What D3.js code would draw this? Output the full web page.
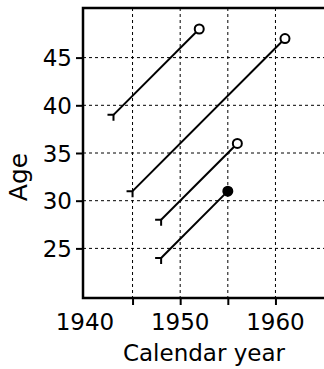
<!DOCTYPE html>
<html><head><meta charset="utf-8">
<script src="https://cdn.jsdelivr.net/npm/d3@7"></script>
<style>
html,body{margin:0;padding:0;background:#fff;overflow:hidden}
svg{display:block}
text{font-family:"DejaVu Sans",sans-serif;fill:#000}
</style></head>
<body>
<svg id="chart" width="324" height="369"></svg>
<script>
// Data
const entryYear = [1943, 1945, 1948, 1948];
const exitYear  = [1952, 1961, 1956, 1955];
const entryAge  = [39, 31, 28, 24];
const event     = [0, 0, 0, 1];
const xTicks = [1945, 1950, 1955, 1960];
const xTickLabels = [1940, 1950, 1960];
const yTicks = [25, 30, 35, 40, 45];

const svg = d3.select("#chart");
const L = 83, T = 8, B = 298, R = 325;
const x = d3.scaleLinear().domain([1939.8, 1965.2]).range([L, R]);
const y = d3.scaleLinear().domain([19.8, 50.2]).range([B, T]);

// grid
const g = svg.append("g");
g.selectAll(".vg").data(xTicks).enter().append("line")
  .attr("x1", d => x(d)).attr("x2", d => x(d)).attr("y1", T).attr("y2", B)
  .attr("stroke", "#000").attr("stroke-width", 1).attr("stroke-dasharray", "3,3");
g.selectAll(".hg").data(yTicks).enter().append("line")
  .attr("x1", L).attr("x2", R).attr("y1", d => y(d)).attr("y2", d => y(d))
  .attr("stroke", "#000").attr("stroke-width", 1).attr("stroke-dasharray", "3,3");

// axes
const xAxis = d3.axisBottom(x).tickValues(xTicks).tickSize(7).tickFormat("");
const gx = svg.append("g").attr("transform", `translate(0,${B})`).call(xAxis);
gx.select(".domain").remove();
gx.selectAll("line").attr("stroke-width", 2);
svg.selectAll(".xl").data(xTickLabels).enter().append("text")
  .attr("x", d => x(d)).attr("y", 330).attr("text-anchor", "middle")
  .attr("font-size", 23).text(d => d);

const yAxis = d3.axisLeft(y).tickValues(yTicks).tickSize(7).tickPadding(4);
const gy = svg.append("g").attr("transform", `translate(${L},0)`).call(yAxis);
gy.select(".domain").remove();
gy.selectAll("line").attr("stroke-width", 2);
gy.selectAll("text").attr("font-size", 23).attr("font-family", "DejaVu Sans").attr("dy", "0.36em");

// frame (right edge falls outside the window)
svg.append("rect").attr("x", L).attr("y", T).attr("width", R + 4 - L).attr("height", B - T)
  .attr("fill", "none").attr("stroke", "#000").attr("stroke-width", 2.5);

// lifelines
const idx = d3.range(entryYear.length);
const lg = svg.append("g");
idx.forEach(i => {
  const x0 = x(entryYear[i]), y0 = y(entryAge[i]);
  const x1 = x(exitYear[i]), y1 = y(entryAge[i] + exitYear[i] - entryYear[i]);
  lg.append("line").attr("x1", x0).attr("y1", y0).attr("x2", x1).attr("y2", y1)
    .attr("stroke", "#000").attr("stroke-width", 2);
  lg.append("path").attr("d", `M${x0 - 6},${y0}H${x0}V${y0 + 6}`)
    .attr("fill", "none").attr("stroke", "#000").attr("stroke-width", 2);
  lg.append("circle").attr("cx", x1).attr("cy", y1).attr("r", 4.5)
    .attr("fill", event[i] ? "#000" : "#fff").attr("stroke", "#000").attr("stroke-width", 2);
});

// axis titles
svg.append("text").attr("x", 204).attr("y", 361).attr("text-anchor", "middle")
  .attr("font-size", 23).text("Calendar year");
svg.append("text").attr("transform", "translate(27,177) rotate(-90)")
  .attr("text-anchor", "middle").attr("font-size", 25).text("Age");
</script>
</body></html>
